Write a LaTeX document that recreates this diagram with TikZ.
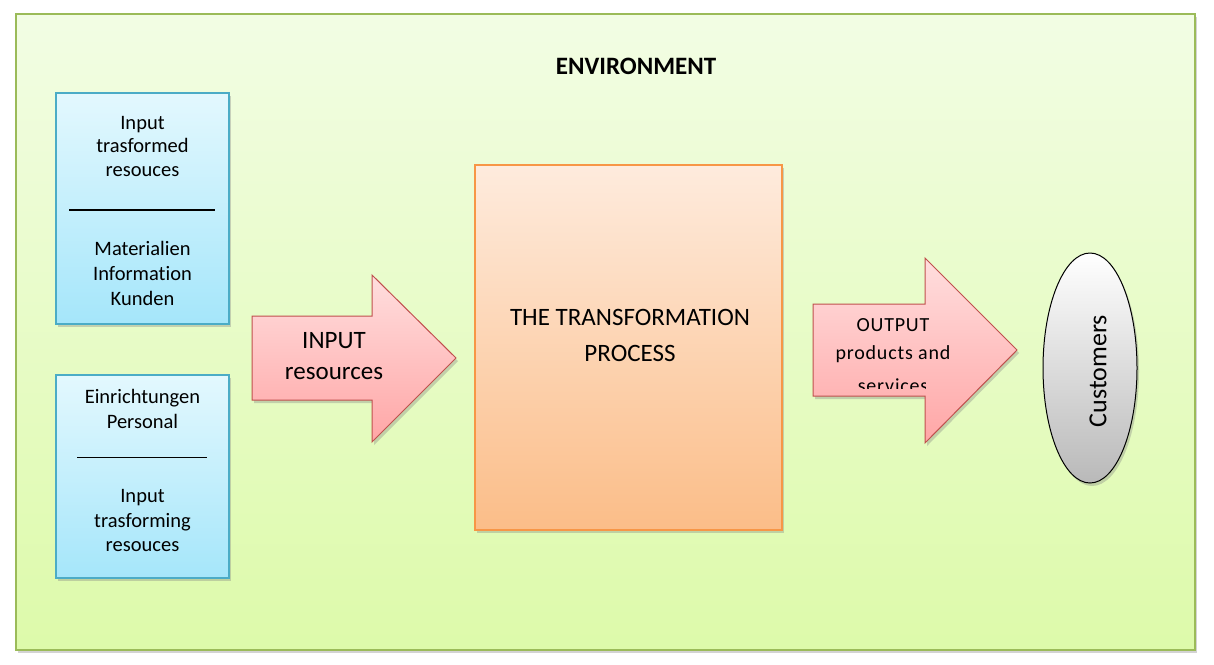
\documentclass[tikz,border=0pt]{standalone}
\usepackage{fontspec}
\setmainfont[Ligatures=NoCommon]{Carlito}
\usetikzlibrary{shadows,shapes.geometric}
\definecolor{envborder}{HTML}{9BBB59}
\definecolor{envtop}{HTML}{F2FDE4}
\definecolor{envbot}{HTML}{DDFAAA}
\definecolor{blueborder}{HTML}{4BACC6}
\definecolor{bluetop}{HTML}{E3F8FE}
\definecolor{bluebot}{HTML}{A5E6FA}
\definecolor{orborder}{HTML}{F79646}
\definecolor{ortop}{HTML}{FEEBDD}
\definecolor{orbot}{HTML}{FBBD88}
\definecolor{redborder}{HTML}{C0504D}
\definecolor{redtop}{HTML}{FFDEDE}
\definecolor{redbot}{HTML}{FFA6A6}
\tikzset{
  shad/.style={drop shadow={opacity=0.35,shadow xshift=2pt,shadow yshift=-3pt}},
  envbox/.style={draw=envborder,line width=1.5pt,top color=envtop,bottom color=envbot,shad},
  bluebox/.style={draw=blueborder,line width=1.2pt,top color=bluetop,bottom color=bluebot,shad},
  orbox/.style={draw=orborder,line width=1.2pt,top color=ortop,bottom color=orbot,shad},
  redarrow/.style={draw=redborder,line width=1pt,top color=redtop,bottom color=redbot,shad},
  custell/.style={ellipse,draw=black,line width=1pt,top color=white,bottom color=gray!55,shad},
  txt/.style={font=\fontsize{20.5}{25}\selectfont,inner sep=0pt,anchor=base},
  bigtxt/.style={font=\fontsize{25}{33}\selectfont,inner sep=0pt},
  outtxt/.style={font=\fontsize{20}{29}\selectfont\addfontfeatures{LetterSpace=4},inner sep=0pt},
}
\begin{document}
\begin{tikzpicture}[x=1pt,y=-1pt]
\useasboundingbox (0,0) rectangle (1214,664);
% environment
\node[envbox,minimum width=1179pt,minimum height=636pt,inner sep=0pt] (env) at (605.5,332) {};
\node[font=\fontsize{25}{26}\selectfont\bfseries,inner sep=0pt] (envlabel) at (636,66) {ENVIRONMENT};
% box 1
\node[bluebox,minimum width=173pt,minimum height=231pt,inner sep=0pt] (b1) at (142.5,208.5) {};
\node[txt] (b1a) at (142.5,129) {Input};
\node[txt] (b1b) at (142.5,152) {trasformed};
\node[txt] (b1c) at (142.5,176) {resouces};
\coordinate (l1a) at (69,210);
\coordinate (l1b) at (215,210);
\draw[line width=2.5pt] (l1a) -- (l1b);
\node[txt] (b1d) at (142.5,255) {Materialien};
\node[txt] (b1e) at (142.5,280) {Information};
\node[txt] (b1f) at (142.5,305) {Kunden};
% box 2
\node[bluebox,minimum width=173pt,minimum height=203pt,inner sep=0pt] (b2) at (142.5,476.5) {};
\node[txt] (b2a) at (142.5,403) {Einrichtungen};
\node[txt] (b2b) at (142.5,428) {Personal};
\coordinate (l2a) at (77,457);
\coordinate (l2b) at (207,457);
\draw[line width=0.8pt] (l2a) -- (l2b);
\node[txt] (b2c) at (142.5,502) {Input};
\node[txt] (b2d) at (142.5,527) {trasforming};
\node[txt] (b2e) at (142.5,551) {resouces};
% input arrow
\path[redarrow] (252,316) -- (372,316) -- (372,275) -- (456,358) -- (372,442) -- (372,400) -- (252,400) -- cycle;
\node[bigtxt] (in1) at (334,341) {INPUT};
\node[bigtxt] (in2) at (334,374) {resources};
% transformation
\node[orbox,minimum width=307pt,minimum height=365pt,inner sep=0pt] (tp) at (628.5,347.5) {};
\node[bigtxt] (tp1) at (630,317) {THE TRANSFORMATION};
\node[bigtxt] (tp2) at (630,353) {PROCESS};
% output arrow
\path[redarrow] (813,304) -- (925,304) -- (925,258) -- (1017,350) -- (925,443) -- (925,396) -- (813,396) -- cycle;
\node[outtxt] (out1) at (893,325) {OUTPUT};
\node[outtxt] (out2) at (893,354) {products and};
\begin{scope}
\clip (813,370) rectangle (925,388.5);
\node[outtxt,anchor=base] (out3) at (893,392) {services};
\end{scope}
% customers
\node[custell,minimum width=94pt,minimum height=230pt,inner sep=0pt] (cust) at (1090,368) {};
\node[font=\fontsize{26}{30}\selectfont,rotate=90,inner sep=0pt] (custl) at (1098,371) {Customers};
\end{tikzpicture}
\end{document}
